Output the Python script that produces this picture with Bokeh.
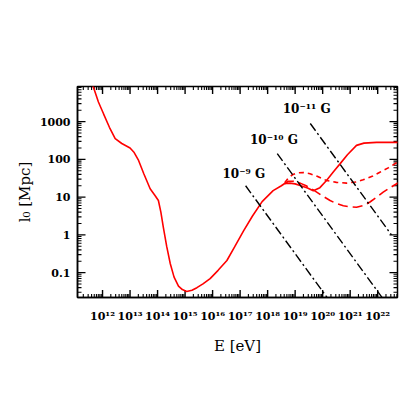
import math
from bokeh.plotting import figure
from bokeh.models import FixedTicker, CustomJSTickFormatter, Range1d
from bokeh.embed import file_html
from bokeh.resources import INLINE
from bokeh.core.properties import value

# ---- data (log10 values) ----
main_logE = [11.55, 11.67, 11.85, 12.04, 12.25, 12.46, 12.7, 13.0, 13.15, 13.31, 13.5, 13.73, 13.9,
             14.03, 14.12, 14.21, 14.33, 14.46, 14.6, 14.76, 14.9, 15.06, 15.25, 15.43, 15.65,
             15.91, 16.2, 16.52, 16.8, 17.12, 17.45, 17.8, 18.2, 18.5, 18.62, 18.81, 19.0,
             19.18, 19.45, 19.66, 19.9, 20.14, 20.4, 20.63, 20.9, 21.23, 21.5, 21.96, 22.3, 22.75]
main_logl = [4.15, 3.91, 3.52, 3.20, 2.85, 2.55, 2.42, 2.30, 2.18, 1.97, 1.62, 1.22, 1.05,
             0.91, 0.60, 0.20, -0.30, -0.76, -1.12, -1.36, -1.45, -1.50, -1.47, -1.40, -1.30,
             -1.16, -0.94, -0.68, -0.32, 0.10, 0.50, 0.88, 1.17, 1.30, 1.36, 1.37, 1.35,
             1.31, 1.24, 1.17, 1.25, 1.44, 1.68, 1.88, 2.12, 2.37, 2.43, 2.45, 2.45, 2.45]

short_logE = [18.62, 18.75, 18.9, 19.06, 19.3, 19.54, 19.8, 20.14, 20.5, 20.87, 21.2, 21.47, 21.8,
              22.08, 22.4, 22.75]
short_logl = [1.38, 1.50, 1.59, 1.64, 1.65, 1.62, 1.55, 1.44, 1.39, 1.37, 1.40, 1.46, 1.55,
              1.66, 1.78, 1.94]

long_logE = [18.62, 18.75, 18.95, 19.18, 19.4, 19.66, 19.95, 20.27, 20.5, 20.75, 21.0, 21.23,
             21.5, 21.72, 21.95, 22.2, 22.45, 22.75]
long_logl = [1.35, 1.42, 1.42, 1.37, 1.30, 1.19, 1.05, 0.91, 0.83, 0.77, 0.74, 0.73,
             0.78, 0.87, 0.99, 1.13, 1.25, 1.38]

# magnetic-field lines: start/end (log10 E, log10 l)
b_labels = ["10\u207b\u2079 G", "10\u207b\u00b9\u2070 G", "10\u207b\u00b9\u00b9 G"]
b_logE0 = [17.2, 18.35, 19.55]
b_logl0 = [1.30, 2.15, 2.95]
b_logE1 = [20.3, 22.3, 22.5]
b_logl1 = [-1.80, -1.80, 0.00]
lab_logE = [16.36, 17.36, 18.55]
lab_logl = [1.60, 2.52, 3.34]

x_major = [10.0 ** k for k in range(11, 24)]
y_major = [10.0 ** k for k in range(-2, 5)]


def minors(majors):
    out = []
    for m in majors:
        for j in range(2, 10):
            out.append(m * j)
    return out


x_minor = minors(x_major)
y_minor = minors(y_major)

exp10 = lambda arr: [10.0 ** v for v in arr]

FONT = "DejaVu Serif"

X0, X1 = 10 ** 11.09, 10 ** 22.72
Y0, Y1 = 10 ** -1.66, 10 ** 3.93

p = figure(width=412, height=412, x_axis_type="log", y_axis_type="log",
           x_range=Range1d(X0, X1), y_range=Range1d(Y0, Y1),
           output_backend="svg", toolbar_location=None,
           min_border_left=77, min_border_right=15, min_border_top=86, min_border_bottom=115)
p.background_fill_color = "white"
p.border_fill_color = "white"
p.xgrid.visible = False
p.ygrid.visible = False
p.outline_line_color = "black"
p.outline_line_width = 1.5

xfmt = CustomJSTickFormatter(code="""
const sup = {'0':'\u2070','1':'\u00b9','2':'\u00b2','3':'\u00b3','4':'\u2074','5':'\u2075',
             '6':'\u2076','7':'\u2077','8':'\u2078','9':'\u2079','-':'\u207b'};
const e = Math.round(Math.log10(tick));
return '10' + String(e).split('').map(c => sup[c]).join('');
""")
yfmt = CustomJSTickFormatter(code="""
if (tick >= 1) { return Math.round(tick).toString(); }
return (Math.round(tick * 1000) / 1000).toString();
""")


def style(ax, ticker):
    ax.ticker = ticker
    ax.major_tick_in = 0
    ax.major_tick_out = 0
    ax.minor_tick_in = 0
    ax.minor_tick_out = 0
    ax.axis_line_width = 1.5
    ax.major_label_text_font = FONT
    ax.major_label_text_font_size = "11px"
    ax.major_label_text_font_style = "bold"
    ax.major_label_text_color = "black"


style(p.xaxis[0], FixedTicker(ticks=x_major, minor_ticks=[]))
style(p.yaxis[0], FixedTicker(ticks=y_major, minor_ticks=[]))
p.xaxis[0].formatter = xfmt
p.yaxis[0].formatter = yfmt
p.xaxis[0].major_label_standoff = 12
p.yaxis[0].major_label_standoff = 7

p.xaxis[0].axis_label = "E [eV]"
p.yaxis[0].axis_label = "l\u2080 [Mpc]"
for ax in (p.xaxis[0], p.yaxis[0]):
    ax.axis_label_text_font = FONT
    ax.axis_label_text_font_size = "15px"
    ax.axis_label_text_font_style = "normal"
    ax.axis_label_text_color = "black"
p.xaxis[0].axis_label_standoff = 11
p.yaxis[0].axis_label_standoff = 3


# inward tick marks drawn at the frame edges (clipped to the frame)
def inrange(vals, lo, hi):
    return [v for v in vals if lo <= v <= hi]


xM = inrange(x_major, X0, X1)
xm = inrange(x_minor, X0, X1)
yM = inrange(y_major, Y0, Y1)
ym = inrange(y_minor, Y0, Y1)

for xs, size, lw in ((xM, 15, 1.4), (xm, 7, 1.1)):
    p.scatter(x=xs + xs, y=[Y0] * len(xs) + [Y1] * len(xs), marker="dash", size=size,
              angle=math.pi / 2, line_color="black", line_width=lw)
for ys, size, lw in ((yM, 16, 1.4), (ym, 8, 1.1)):
    p.scatter(x=[X0] * len(ys) + [X1] * len(ys), y=ys + ys, marker="dash", size=size,
              line_color="black", line_width=lw)

# curves
p.line(exp10(main_logE), exp10(main_logl), line_color="red", line_width=1.6)
p.line(exp10(short_logE), exp10(short_logl), line_color="red", line_width=1.6, line_dash="5 4")
p.line(exp10(long_logE), exp10(long_logl), line_color="red", line_width=1.6, line_dash="10 5")

p.segment(x0=exp10(b_logE0), y0=exp10(b_logl0), x1=exp10(b_logE1), y1=exp10(b_logl1),
          line_color="black", line_width=1.4, line_dash="9 3 2 3")

p.text(x=exp10(lab_logE), y=exp10(lab_logl), text=b_labels,
       text_font=value(FONT), text_font_size="12px", text_font_style="bold",
       text_align="left", text_baseline="middle", text_color="black")

open("out.html", "w").write(file_html(p, INLINE))
